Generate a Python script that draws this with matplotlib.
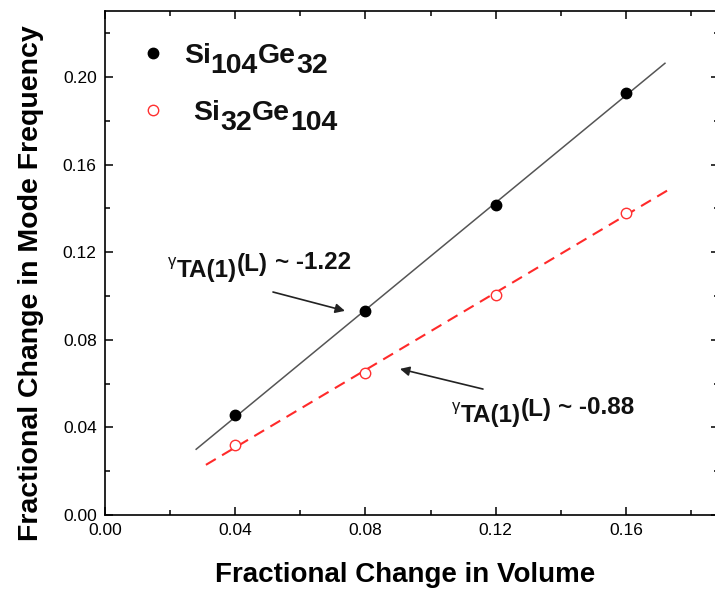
import numpy as np
import matplotlib
matplotlib.use("Agg")
import matplotlib.pyplot as plt
from matplotlib.ticker import MultipleLocator, FormatStrFormatter
from matplotlib.transforms import offset_copy, IdentityTransform

# ---- data ----
vol_change = [0.04, 0.08, 0.12, 0.16]
freq_si104 = [0.0455, 0.093, 0.1415, 0.1925]   # Si104Ge32 (filled black)
freq_si32 = [0.032, 0.065, 0.1005, 0.138]      # Si32Ge104 (open red)

fit_range_si104 = [0.028, 0.172]
fit_range_si32 = [0.031, 0.1745]

# rich labels: (text, vertical shift in pt, size, weight, gap before in pt)
label_si104 = [('Si', 0, 20.5, 'bold', 0), ('104', -7, 20.5, 'bold', 0),
               ('Ge', 0, 20.5, 'bold', 0), ('32', -7, 20.5, 'bold', 0)]
label_si32 = [('Si', 0, 20.5, 'bold', 7), ('32', -7, 20.5, 'bold', 0),
              ('Ge', 0, 20.5, 'bold', 0), ('104', -7, 20.5, 'bold', 0)]
gamma_si104 = [('γ', 2.5, 12, 'normal', 0), ('TA(1)', -6, 17.5, 'bold', 0),
               ('(L)', -1.5, 17.5, 'bold', 0), ('~ -1.22', 0, 17.5, 'bold', 5)]
gamma_si32 = [('γ', 2.5, 12, 'normal', 0), ('TA(1)', -6, 17.5, 'bold', 0),
              ('(L)', -1.5, 17.5, 'bold', 0), ('~ -0.88', 0, 17.5, 'bold', 5)]

plt.rcParams['font.family'] = ['Liberation Sans', 'DejaVu Sans']

fig = plt.figure(figsize=(7.15, 5.92), dpi=100, facecolor='white')
ax = fig.add_axes([105 / 715, 77 / 592, 614 / 715, 504 / 592])
renderer = fig.canvas.get_renderer()


def rich_text(x, y, pieces, transform):
    # draw pieces one after another, each shifted up/down like sub/superscripts
    dx = 0.0
    for s, dy, size, weight, gap in pieces:
        dx += gap
        tr = offset_copy(transform, fig=fig, x=dx, y=dy, units='points')
        t = ax.text(x, y, s, fontsize=size, fontweight=weight, transform=tr,
                    ha='left', va='baseline', color='#111111')
        dx += t.get_window_extent(renderer).width * 72 / fig.dpi


# linear fits through the points
for xs, ys, rng, style in [
    (vol_change, freq_si104, fit_range_si104, dict(color='#555555', lw=1.1, ls='-')),
    (vol_change, freq_si32, fit_range_si32, dict(color='#ff2a2a', lw=1.5, ls=(0, (5.5, 3.5)))),
]:
    k, b = np.polyfit(xs, ys, 1)
    xf = np.array(rng)
    ax.plot(xf, k * xf + b, zorder=2, **style)

h1, = ax.plot(vol_change, freq_si104, 'o', color='black', ms=7.5, zorder=3)
h2, = ax.plot(vol_change, freq_si32, 'o', mfc='white', mec='#ff3030', mew=1.0, ms=7.5, zorder=3)

ax.set_xlim(0, 0.1886)
ax.set_ylim(0, 0.2301)
ax.xaxis.set_major_locator(MultipleLocator(0.04))
ax.xaxis.set_minor_locator(MultipleLocator(0.02))
ax.yaxis.set_major_locator(MultipleLocator(0.04))
ax.yaxis.set_minor_locator(MultipleLocator(0.02))
ax.xaxis.set_major_formatter(FormatStrFormatter('%.2f'))
ax.yaxis.set_major_formatter(FormatStrFormatter('%.2f'))

ax.tick_params(which='both', direction='in', top=True, right=True, width=1.1,
               labelsize=12.5, colors='black', pad=6)
ax.tick_params(which='major', length=6)
ax.tick_params(which='minor', length=3.5)
for sp in ax.spines.values():
    sp.set_linewidth(1.2)

ax.set_xlabel('Fractional Change in Volume', fontsize=20, fontweight='bold')
ax.set_ylabel('Fractional Change in Mode Frequency', fontsize=20.5, fontweight='bold')
ax.xaxis.set_label_coords(0.489, -0.093)
ax.yaxis.set_label_coords(-0.10, 0.46)

# legend: markers from matplotlib, labels drawn as rich text next to them
leg = ax.legend(handles=[h1, h2], labels=[' ', ' '], loc='upper left',
                bbox_to_anchor=(0.06, 0.937), borderpad=0, borderaxespad=0,
                frameon=False, fontsize=20, labelspacing=1.1, handlelength=0.8,
                handletextpad=0.71)
fig.canvas.draw()
for handle, txt, pieces in zip(leg.legend_handles, leg.get_texts(), [label_si104, label_si32]):
    hb = handle.get_window_extent(renderer)
    tb = txt.get_window_extent(renderer)
    yc = 0.5 * (hb.y0 + hb.y1)
    cap = 20.5 * 0.716 * fig.dpi / 72
    rich_text(tb.x0, yc - cap / 2, pieces, IdentityTransform())

# slope annotations
rich_text(0.0194, 0.1123, gamma_si104, ax.transData)
rich_text(0.1066, 0.0461, gamma_si32, ax.transData)
arrow = dict(arrowstyle='-|>', color='#222222', lw=1.2, mutation_scale=14, shrinkA=0, shrinkB=0)
ax.annotate('', xy=(0.0737, 0.0932), xytext=(0.0516, 0.1018), arrowprops=arrow)
ax.annotate('', xy=(0.0906, 0.0667), xytext=(0.1161, 0.0575), arrowprops=arrow)

fig.savefig('out.png', dpi=100, facecolor='white')
